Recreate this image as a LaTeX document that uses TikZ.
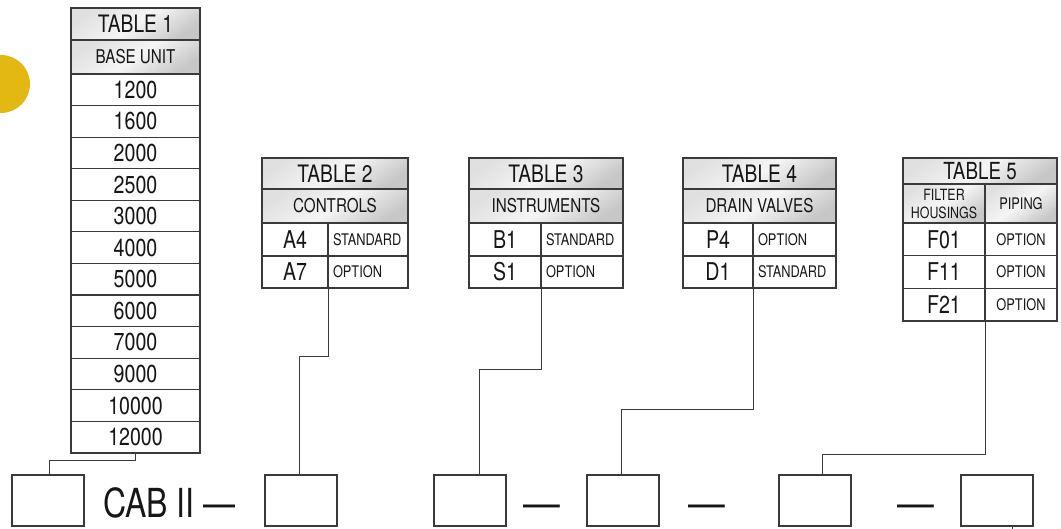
\documentclass[tikz,border=0pt]{standalone}
\usepackage{fontspec}
\setmainfont[FakeStretch=0.8]{TeX Gyre Heros}
\newfontfamily\dashfont[FakeStretch=0.92]{TeX Gyre Heros}
\definecolor{lineC}{HTML}{3A3A3A}
\definecolor{textC}{HTML}{161616}
\definecolor{goldC}{HTML}{E4B812}
\tikzset{
  cell/.style={draw=lineC, line width=1.2pt, inner sep=0pt, outer sep=0pt, anchor=north west, text=textC, fill=white},
  hdr/.style={cell, top color=black!12, bottom color=black!22, middle color=black!4, shading angle=35},
  fhdr/.style={font=\fontsize{24}{24}\selectfont},
  fsub/.style={font=\fontsize{19}{19}\selectfont},
  fnum/.style={font=\fontsize{24.5}{24.5}\selectfont},
  fopt/.style={font=\fontsize{16}{16}\selectfont},
  optcell/.style={cell, fopt, align=left, inner xsep=5pt},
  conn/.style={draw=lineC, line width=1pt},
  boxC/.style={draw=lineC, line width=1.3pt, inner sep=0pt, outer sep=0pt, anchor=north west, minimum width=72pt, minimum height=51pt},
  bigtxt/.style={text=textC, font=\fontsize{40}{40}\selectfont, inner sep=0pt, anchor=base west},
  dashtxt/.style={text=textC, font=\dashfont\fontsize{40}{40}\selectfont, inner sep=0pt, anchor=base west}
}
\begin{document}
\begin{tikzpicture}[x=1pt,y=-1pt]
\useasboundingbox (0,0) rectangle (1061,529);
% yellow circle (cut off by the left edge)
\begin{scope}
\clip (0,0) rectangle (1061,529);
\fill[goldC] (1,84) circle (29);
\end{scope}
% ---------------- TABLE 1
\node[hdr, fhdr, minimum width=129pt, minimum height=32pt] (t1h) at (71,8) {TABLE 1};
\node[hdr, fsub, minimum width=129pt, minimum height=34pt] (t1s) at (71,40) {BASE UNIT};
\foreach \v [count=\i] in {1200,1600,2000,2500,3000,4000,5000,6000,7000,9000,10000,12000}
  \node[cell, fnum, minimum width=129pt, minimum height=31.58pt] (t1r\i) at (71,{74+(\i-1)*31.58}) {\v};
% ---------------- TABLE 2
\node[hdr, fhdr, minimum width=146pt, minimum height=31pt] (t2h) at (262,158) {TABLE 2};
\node[hdr, fsub, minimum width=146pt, minimum height=34pt] (t2s) at (262,189) {CONTROLS};
\node[cell, fnum, minimum width=66pt, minimum height=33pt] (t2a1) at (262,223) {A4};
\node[optcell, text width=70pt, minimum height=33pt] (t2b1) at (328,223) {STANDARD};
\node[cell, fnum, minimum width=66pt, minimum height=32pt] (t2a2) at (262,256) {A7};
\node[optcell, text width=70pt, minimum height=32pt] (t2b2) at (328,256) {OPTION};
% ---------------- TABLE 3
\node[hdr, fhdr, minimum width=154pt, minimum height=31pt] (t3h) at (469,158) {TABLE 3};
\node[hdr, fsub, minimum width=154pt, minimum height=34pt] (t3s) at (469,189) {INSTRUMENTS};
\node[cell, fnum, minimum width=72pt, minimum height=33pt] (t3a1) at (469,223) {B1};
\node[optcell, text width=72pt, minimum height=33pt] (t3b1) at (541,223) {STANDARD};
\node[cell, fnum, minimum width=72pt, minimum height=32pt] (t3a2) at (469,256) {S1};
\node[optcell, text width=72pt, minimum height=32pt] (t3b2) at (541,256) {OPTION};
% ---------------- TABLE 4
\node[hdr, fhdr, minimum width=153pt, minimum height=31pt] (t4h) at (683,158) {TABLE 4};
\node[hdr, fsub, minimum width=153pt, minimum height=34pt] (t4s) at (683,189) {DRAIN VALVES};
\node[cell, fnum, minimum width=70pt, minimum height=33pt] (t4a1) at (683,223) {P4};
\node[optcell, text width=73pt, minimum height=33pt] (t4b1) at (753,223) {OPTION};
\node[cell, fnum, minimum width=70pt, minimum height=32pt] (t4a2) at (683,256) {D1};
\node[optcell, text width=73pt, minimum height=32pt] (t4b2) at (753,256) {STANDARD};
% ---------------- TABLE 5
\node[hdr, font=\fontsize{23.5}{23.5}\selectfont, minimum width=154pt, minimum height=26pt] (t5h) at (903,158) {TABLE 5};
\node[hdr, font=\fontsize{15.5}{18}\selectfont, align=center, minimum width=82pt, minimum height=39pt] (t5s1) at (903,184) {FILTER\\HOUSINGS};
\node[hdr, font=\fontsize{16}{16}\selectfont, minimum width=72pt, minimum height=39pt] (t5s2) at (985,184) {PIPING};
\foreach \v [count=\i] in {F01,F11,F21}{
  \node[cell, fnum, minimum width=82pt, minimum height=32.67pt] (t5a\i) at (903,{223+(\i-1)*32.67}) {\v};
  \node[cell, fopt, minimum width=72pt, minimum height=32.67pt] (t5b\i) at (985,{223+(\i-1)*32.67}) {OPTION};
}
% ---------------- bottom boxes
\node[boxC] (b1) at (12,475) {};
\node[boxC] (b2) at (265,475) {};
\node[boxC] (b3) at (434,475) {};
\node[boxC] (b4) at (587,475) {};
\node[boxC] (b5) at (779,475) {};
\node[boxC] (b6) at (961,475) {};
\node[bigtxt] (cab) at (103,517) {CAB II —};
\node[dashtxt] (d1) at (523,517) {—};
\node[dashtxt] (d2) at (688,517) {—};
\node[dashtxt] (d3) at (897,517) {—};
% ---------------- connectors
\draw[conn] (t1r12.south) -- ++(0,8) -| (b1.north -| 49,0);
\draw[conn] (t2a2.south east) -- ++(0,69) -| (b2.north -| 299,0);
\draw[conn] (t3a2.south east) -- ++(0,82) -| (b3.north -| 479,0);
\draw[conn] (t4a2.south east) -- ++(0,122) -| (b4.north -| 621,0);
\draw[conn] (t5a3.south east) -- ++(0,133) -| (b5.north -| 822,0);
\coordinate (tickend) at (1012,529);
\draw[conn] (b6.south -| tickend) -- (tickend);
\end{tikzpicture}
\end{document}
